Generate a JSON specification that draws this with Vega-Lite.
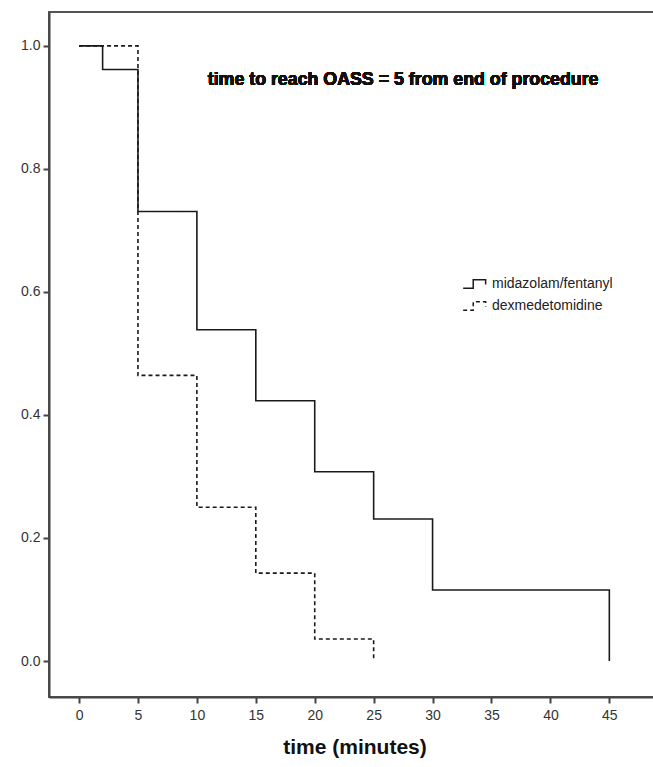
{
  "$schema": "https://vega.github.io/schema/vega-lite/v6.json",
  "width": 611,
  "height": 685,
  "autosize": {"type": "none"},
  "padding": {"left": 49, "top": 12, "right": 0, "bottom": 70},
  "background": "white",
  "config": {
    "view": {"stroke": "#555", "strokeWidth": 2},
    "font": "Liberation Sans",
    "axis": {"grid": false, "domainColor": "#444", "domainWidth": 2, "tickColor": "#444", "tickWidth": 2, "tickSize": 6, "labelFont": "Liberation Sans", "labelFontSize": 14, "labelColor": "#333", "titleFont": "Liberation Sans", "titleColor": "#111"}
  },
  "data": {
    "values": [
      {"group": "midazolam/fentanyl", "time": 0, "surv": 1.0},
      {"group": "midazolam/fentanyl", "time": 2, "surv": 0.9615},
      {"group": "midazolam/fentanyl", "time": 5, "surv": 0.7308},
      {"group": "midazolam/fentanyl", "time": 10, "surv": 0.5385},
      {"group": "midazolam/fentanyl", "time": 15, "surv": 0.4231},
      {"group": "midazolam/fentanyl", "time": 20, "surv": 0.3077},
      {"group": "midazolam/fentanyl", "time": 25, "surv": 0.2308},
      {"group": "midazolam/fentanyl", "time": 30, "surv": 0.1154},
      {"group": "midazolam/fentanyl", "time": 45, "surv": 0.0},
      {"group": "dexmedetomidine", "time": 0, "surv": 1.0},
      {"group": "dexmedetomidine", "time": 5, "surv": 0.4643},
      {"group": "dexmedetomidine", "time": 10, "surv": 0.25},
      {"group": "dexmedetomidine", "time": 15, "surv": 0.1429},
      {"group": "dexmedetomidine", "time": 20, "surv": 0.0357},
      {"group": "dexmedetomidine", "time": 25, "surv": 0.0}
    ]
  },
  "layer": [
    {
      "mark": {"type": "line", "interpolate": "step-after", "color": "#1a1a1a", "strokeWidth": 1.6},
      "encoding": {
        "x": {"field": "time", "type": "quantitative", "scale": {"domain": [-2.55, 49.3], "nice": false, "zero": false},
              "axis": {"values": [0, 5, 10, 15, 20, 25, 30, 35, 40, 45], "title": "time (minutes)", "titleFontSize": 21, "titleFontWeight": "bold", "titlePadding": 14, "labelPadding": 5}},
        "y": {"field": "surv", "type": "quantitative", "scale": {"domain": [-0.0585, 1.055], "nice": false, "zero": false},
              "axis": {"values": [0, 0.2, 0.4, 0.6, 0.8, 1.0], "format": ".1f", "title": null, "labelPadding": 3}},
        "strokeDash": {"field": "group", "type": "nominal",
          "scale": {"domain": ["midazolam/fentanyl", "dexmedetomidine"], "range": [[1, 0], [4, 3]]},
          "legend": {"title": null, "orient": "none", "legendX": 413, "legendY": 259,
                     "symbolType": "M-1,0.35H-0.15V-0.35H0.9V0.05", "symbolSize": 560, "symbolStrokeWidth": 1.5,
                     "symbolStrokeColor": "#1a1a1a", "symbolFillColor": "transparent",
                     "labelFontSize": 14, "labelColor": "#222", "labelFont": "Liberation Sans", "rowPadding": 1, "labelOffset": 4}}
      }
    },
    {
      "mark": {"type": "text", "text": "time to reach OASS = 5 from end of procedure", "fontWeight": "bold", "fontSize": 17.8, "font": "Liberation Sans", "color": "#111", "align": "center", "baseline": "middle"},
      "encoding": {"x": {"datum": 27.5}, "y": {"datum": 0.945}}
    }
  ]
}
